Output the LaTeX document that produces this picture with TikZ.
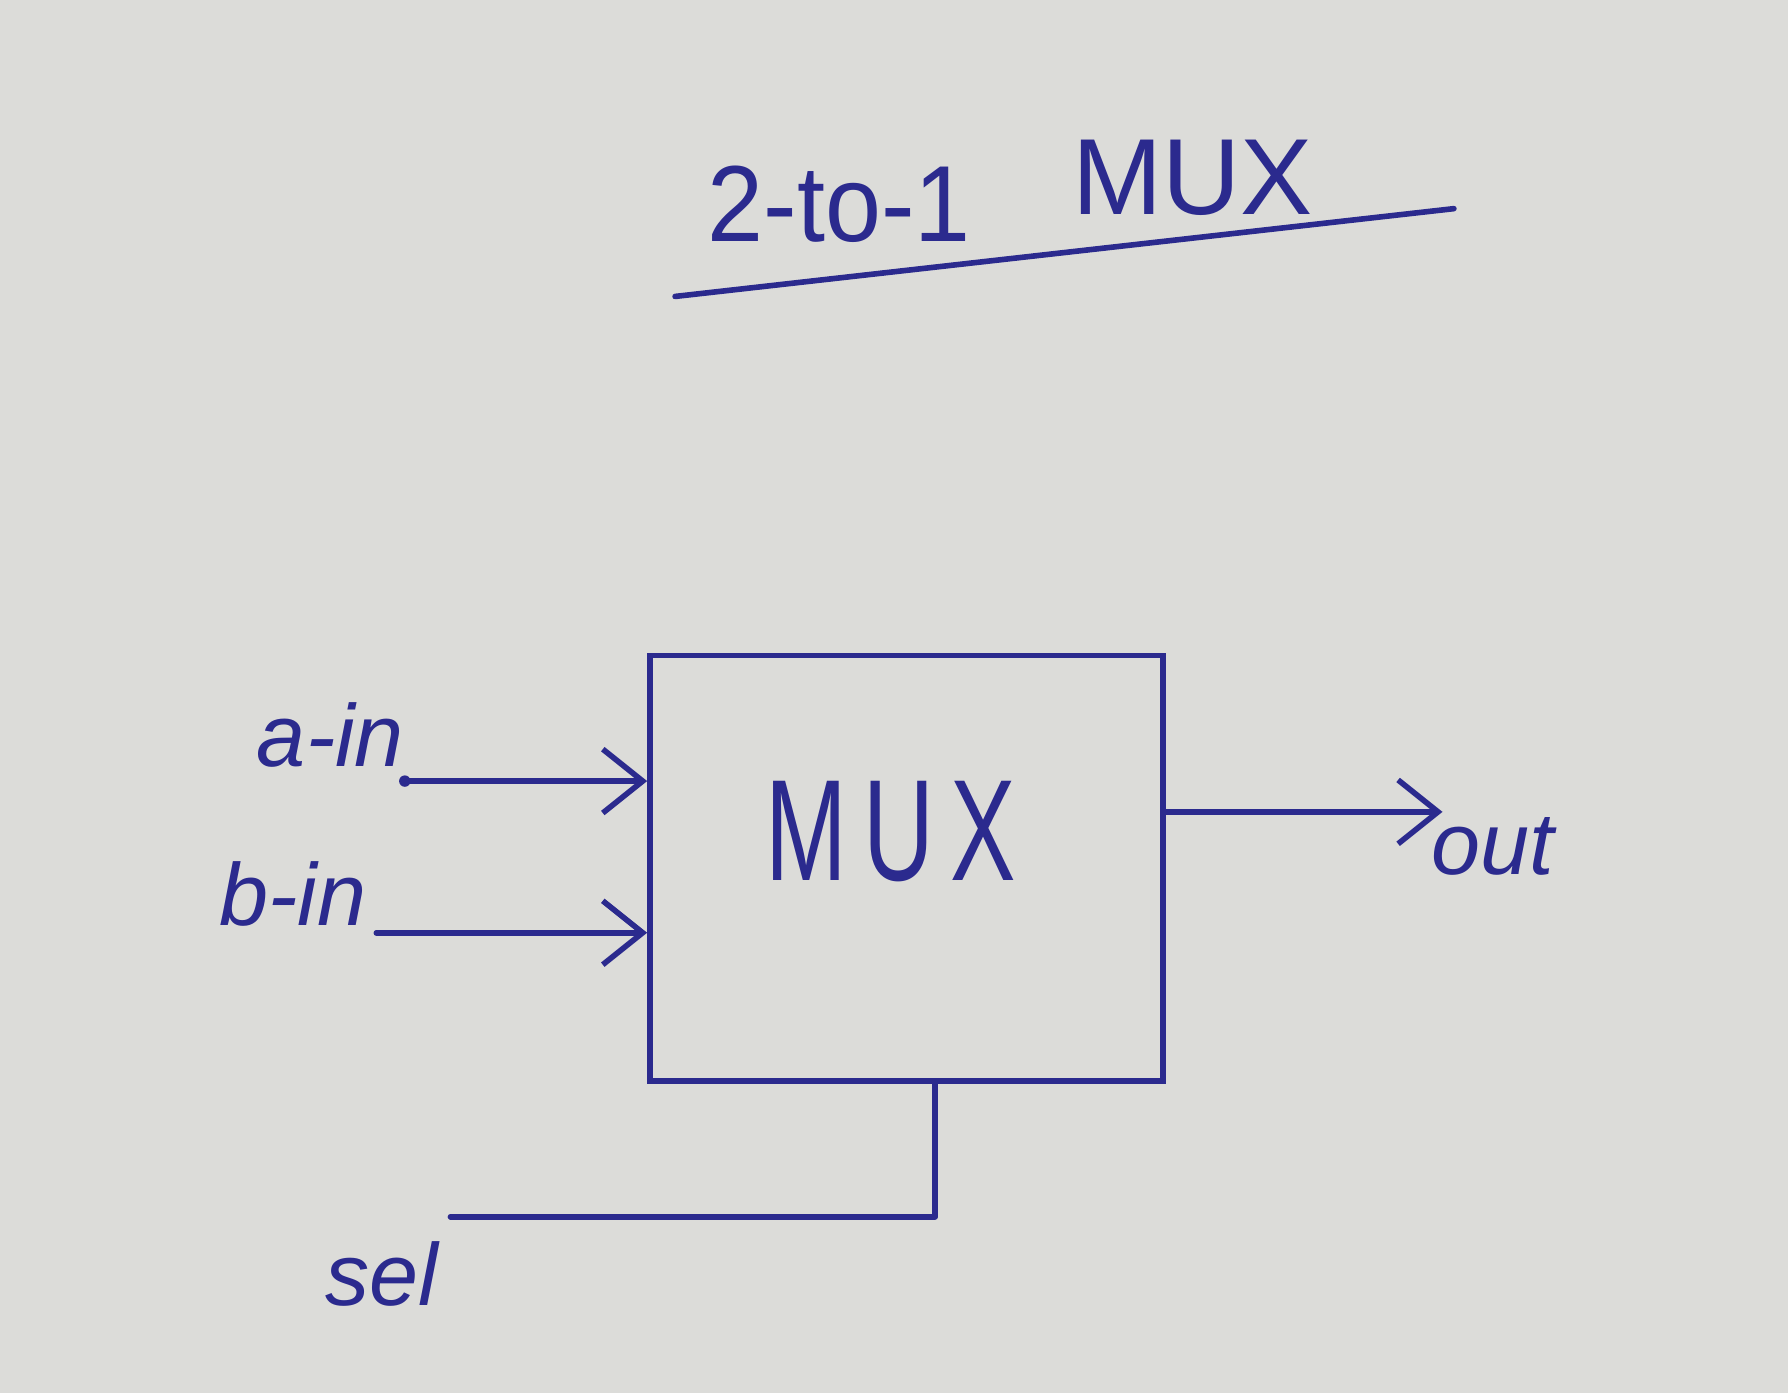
\documentclass[tikz,border=0pt]{standalone}
\usepackage{fontspec}
\setmainfont{Liberation Sans}
\usetikzlibrary{arrows.meta}
\definecolor{ink}{HTML}{2B2A8E}
\definecolor{paper}{HTML}{DCDCD9}
\tikzset{
  wire/.style={draw=ink, line width=1.4pt, line cap=round, line join=round},
  arr/.style={wire, -{Straight Barb[length=3.5mm, width=5.6mm, line width=1.4pt]}},
  lbl/.style={text=ink, font=\fontsize{22}{26}\selectfont\itshape, inner sep=0pt},
  ttl/.style={text=ink, font=\fontsize{27}{32}\selectfont, inner sep=0pt},
  muxbox/.style={draw=ink, line width=1.4pt, minimum width=4.5cm, minimum height=3.73cm}
}
\begin{document}
\begin{tikzpicture}
\fill[paper] (0,0) rectangle (15.68,12.22);
\useasboundingbox (0,0) rectangle (15.68,12.22);

% title
\node[ttl, anchor=base west] (title1) at (6.20,10.10) {\scalebox{0.93}[1]{2-to-1}};
\node[ttl, anchor=base west] (title2) at (9.40,10.34) {MUX};
\coordinate (ul1) at (5.92,9.62);
\coordinate (ul2) at (12.75,10.39);
\draw[wire] (ul1) -- (ul2);

% mux block
\node[muxbox] (mux) at (7.95,4.605) {};
\node[text=ink, font=\fontsize{36}{40}\selectfont, inner sep=0pt] (muxtext) at (7.81,4.93)
  {\scalebox{0.68}[1]{M\,U\,X}};

% inputs
\coordinate (ain) at (3.55,5.37);
\coordinate (bin) at (3.30,4.04);
\fill[ink] (ain) circle (0.05);
\draw[arr] (ain) -- (ain -| mux.west);
\draw[arr] (bin) -- (bin -| mux.west);
\node[lbl, anchor=base east] (alabel) at (3.55,5.50) {a-in};
\node[lbl, anchor=base east] (blabel) at (3.22,4.10) {b-in};

% output
\coordinate (outend) at (12.65,5.10);
\draw[arr] (mux.east |- outend) -- (outend);
\node[lbl, anchor=west] (olabel) at (12.55,4.80) {out};

% select
\coordinate (selc) at (8.2,1.55);
\coordinate (selend) at (3.95,1.55);
\draw[wire] (mux.south -| selc) -- (selc) -- (selend);
\node[lbl] (slabel) at (3.35,1.05) {sel};
\end{tikzpicture}
\end{document}
